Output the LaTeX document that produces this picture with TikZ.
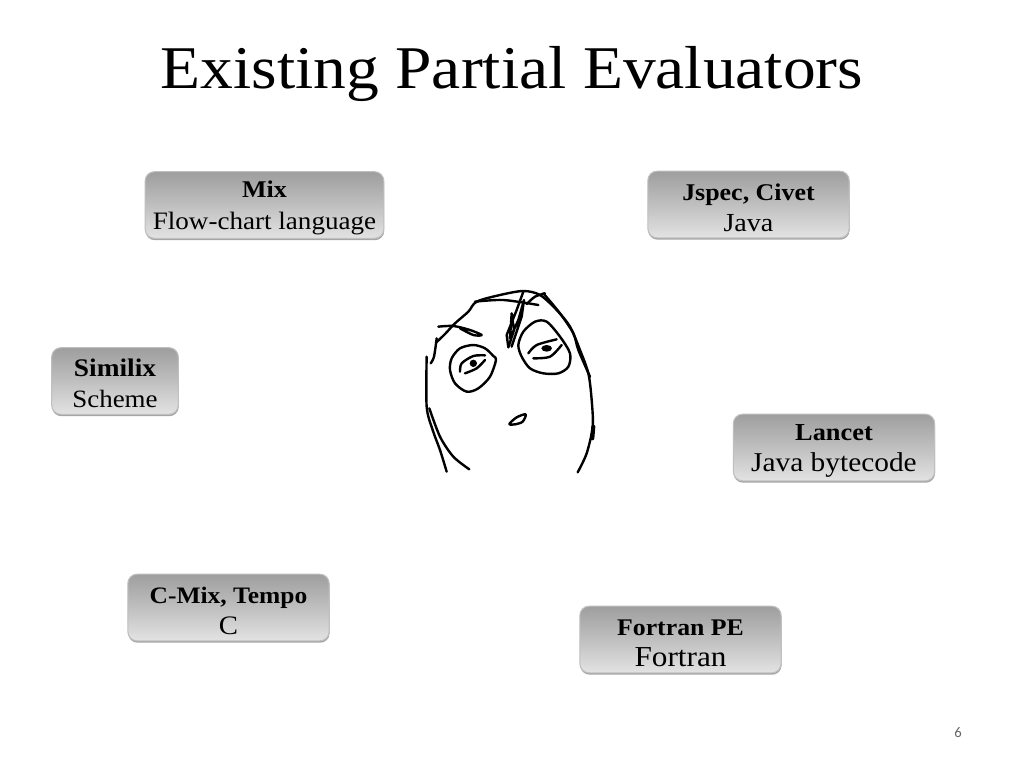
\documentclass[tikz,border=0pt]{standalone}
\usepackage{fontspec}
\setmainfont[FakeStretch=1.08]{Liberation Serif}
\newfontfamily\pagefont{Carlito}
\usetikzlibrary{shadows}
\tikzset{
	evalbox/.style={draw=black!25, line width=0.8pt, rounded corners=7pt, top color=black!38, bottom color=black!11, middle color=black!25, drop shadow={shadow xshift=0.3pt, shadow yshift=-1.4pt, fill=black, opacity=0.35}, align=center, inner sep=0pt, minimum height=50pt, text=black, line cap=round, font=\fontsize{18}{23.5}\selectfont},
	facepen/.style={black, line width=1.8pt, line cap=round, line join=round}
}
\newcommand{\evallabel}[4]{\rule{0pt}{17pt}{\fontsize{#3}{23.5}\selectfont\bfseries #1}\\{\fontsize{#4}{23.5}\selectfont #2}}
\begin{document}
\begin{tikzpicture}[x=0.75pt, y=-0.75pt]
	\useasboundingbox[fill=white] (0,0) rectangle (1024,768);
	\node[anchor=base] (title) at (512,88) {\fontsize{45.5}{45.5}\selectfont Existing Partial Evaluators};
	\node[evalbox, minimum width=179pt] (mix) at (264.5,205) {\evallabel{Mix}{Flow-chart language}{18}{18.8}};
	\node[evalbox, minimum width=151pt] (jspec) at (748.5,204.5) {\evallabel{Jspec, Civet}{Java}{18}{19.5}};
	\node[evalbox, minimum width=95pt] (similix) at (115,381) {\evallabel{Similix}{Scheme}{19}{18.7}};
	\node[evalbox, minimum width=151pt] (lancet) at (834,447.5) {\evallabel{Lancet}{Java bytecode}{18.3}{20.4}};
	\node[evalbox, minimum width=151pt] (cmix) at (228.5,607.5) {\evallabel{C-Mix, Tempo}{C}{17.7}{20}};
	\node[evalbox, minimum width=151pt] (fortran) at (680.5,639.5) {\evallabel{Fortran PE}{Fortran}{17.9}{21.7}};
	\node[text=black!60] (pagenum) at (958,733) {\pagefont\fontsize{11}{11}\selectfont 6};
	% face
	\begin{scope}[shift={(410,280)}, x=0.25pt, y=-0.25pt, facepen]
		\draw plot[smooth] coordinates {(50,230) (50,380) (68,450) (90,510) (110,575)};
		\draw plot[smooth] coordinates {(58,385) (90,470) (130,530) (178,568)};
		\draw plot[smooth] coordinates {(80,175) (72,230) (62,250)};
		\draw plot[smooth] coordinates {(78,188) (105,162) (135,130) (175,95) (200,65) (270,45) (340,33) (390,45) (440,90) (480,140) (510,210) (535,280) (545,360) (548,440) (530,520) (503,577)};
		\draw plot[smooth] coordinates {(400,40) (450,100) (490,160) (505,210) (540,290)};
		\draw[line width=3pt] (550,440) -- (547,475);
		\draw plot[smooth] coordinates {(85,140) (130,138) (180,150) (215,165) (190,165) (150,145)};
		\draw plot[smooth] coordinates {(195,65) (280,60) (385,75)};
		\draw plot[smooth] coordinates {(350,72) (375,50) (405,40)};
		\draw plot coordinates {(340,35) (320,90) (290,165) (295,202) (312,150) (305,100) (300,175) (325,120) (342,60) (335,110) (305,200)};
		% eyes
		\draw plot[smooth cycle] coordinates {(250,228) (225,205) (190,195) (150,205) (125,235) (120,270) (135,310) (170,335) (205,325) (240,290) (258,240)};
		\draw plot[smooth] coordinates {(150,275) (155,250) (190,228) (225,226)};
		\draw plot[smooth] coordinates {(165,280) (200,265) (225,240)};
		\fill (190,250) circle[radius=11];
		\draw plot[smooth cycle] coordinates {(375,125) (410,125) (450,170) (480,220) (475,260) (445,280) (400,280) (360,265) (335,230) (325,195) (340,155)};
		\draw plot[smooth] coordinates {(355,220) (380,195) (440,178)};
		\draw plot[smooth] coordinates {(370,235) (420,230) (455,195)};
		\fill (410,205) ellipse[x radius=16, y radius=10];
		% mouth
		\draw plot[smooth cycle] coordinates {(298,432) (320,412) (347,403) (338,425) (315,433)};
	\end{scope}
\end{tikzpicture}
\end{document}
